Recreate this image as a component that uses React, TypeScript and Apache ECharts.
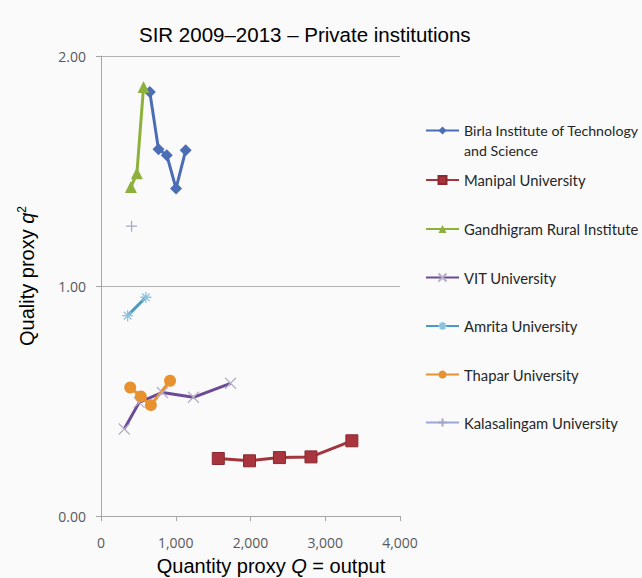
import React, { useEffect, useRef } from "react";
import * as echarts from "echarts";

const titleText = "SIR 2009–2013 – Private institutions";
const xTicks = [0, 1000, 2000, 3000, 4000];
const yTicks = [0, 1, 2];

const seriesNames = [
  "Birla Institute of Technology and Science",
  "Manipal University",
  "Gandhigram Rural Institute",
  "VIT University",
  "Amrita University",
  "Thapar University",
  "Kalasalingam University",
];

const birlaX = [653, 769, 880, 1004, 1133];
const birlaY = [1.843, 1.595, 1.569, 1.424, 1.59];
const manipalX = [1569, 1987, 2387, 2809, 3356];
const manipalY = [0.25, 0.24, 0.254, 0.257, 0.327];
const gandhiX = [400, 480, 569];
const gandhiY = [1.43, 1.49, 1.865];
const vitX = [311, 511, 822, 1236, 1733];
const vitY = [0.378, 0.494, 0.537, 0.516, 0.577];
const amritaX = [356, 600];
const amritaY = [0.871, 0.951];
const thaparX = [391, 533, 667, 924];
const thaparY = [0.559, 0.52, 0.482, 0.588];
const kalaX = [409];
const kalaY = [1.26];

const lineColors = ["#4a6db5", "#a3353c", "#8db13c", "#6b4a98", "#4b9ac3", "#e8912f", "#9aa6d8"];
const legendTops = [130.5, 180, 229, 277.5, 326, 374.5, 422.5];

const zip = (xs: number[], ys: number[]) => xs.map((x, i) => [x, ys[i]]);

export default function App() {
  const ref = useRef<HTMLDivElement>(null);
  useEffect(() => {
    if (!ref.current) return;
    const chart = echarts.init(ref.current, null, { renderer: "svg" });
    const legendFont = { fontFamily: "Lato", fontSize: 14.8, lineHeight: 16, color: "#262626" };
    const mk = (i: number, xs: number[], ys: number[], symbol: string, size: number, extra: any = {}) => ({
      name: seriesNames[i],
      type: "line",
      data: zip(xs, ys),
      symbol,
      symbolSize: size,
      lineStyle: { color: lineColors[i], width: 3 },
      itemStyle: { color: lineColors[i] },
      ...extra,
    });
    const legends = seriesNames.map((n, i) => ({
      data: [n],
      left: 425,
      top: i === 0 ? legendTops[i] - 30 : legendTops[i] - 8,
      orient: "vertical",
      itemWidth: 33,
      itemHeight: 10,
      padding: 0,
      selectedMode: false,
      formatter: i === 0 ? () => " \nBirla Institute of Technology\nand Science" : undefined,
      textStyle: i === 0 ? { ...legendFont, fontSize: 14.2, lineHeight: 20 } : legendFont,
    }));
    chart.setOption({
      animation: false,
      backgroundColor: "#fafafa",
      title: {
        text: titleText,
        left: 134,
        top: 19,
        textStyle: { fontFamily: "Liberation Sans", fontSize: 20.5, fontWeight: "normal", color: "#000" },
      },
      legend: legends,
      grid: { left: 101, right: 242, top: 56, bottom: 62, outerBoundsMode: "none", containLabel: false },
      xAxis: {
        type: "value",
        min: 0,
        max: 4000,
        interval: 1000,
        name: "Quantity proxy {i|Q} = output",
        nameLocation: "middle",
        nameGap: 40,
        nameTextStyle: {
          fontFamily: "Liberation Sans",
          fontSize: 20,
          color: "#000",
          padding: [0, 0, 0, 41],
          rich: { i: { fontFamily: "Liberation Sans", fontSize: 20, fontStyle: "italic", color: "#000" } },
        },
        axisLine: { show: true, lineStyle: { color: "#a6a6a6", width: 1 } },
        axisTick: { show: true, length: 5, lineStyle: { color: "#a6a6a6" } },
        axisLabel: {
          margin: 19,
          fontFamily: "Open Sans",
          fontSize: 14,
          color: "#595959",
          formatter: (v: number) => v.toLocaleString("en-US"),
        },
        splitLine: { show: false },
      },
      yAxis: {
        type: "value",
        min: 0,
        max: 2,
        interval: 1,
        name: "Quality proxy {i|q}{s|2}",
        nameLocation: "middle",
        nameRotate: 90,
        nameGap: 63,
        nameTextStyle: {
          fontFamily: "Liberation Sans",
          fontSize: 20,
          color: "#000",
          padding: [0, 0, 0, 20],
          rich: {
            i: { fontFamily: "Liberation Sans", fontSize: 20, fontStyle: "italic", color: "#000" },
            s: { fontFamily: "Liberation Sans", fontSize: 12, color: "#000", padding: [0, 0, 10, 0] },
          },
        },
        axisLine: { show: true, lineStyle: { color: "#a6a6a6", width: 1 } },
        axisTick: { show: true, length: 5, lineStyle: { color: "#a6a6a6" } },
        axisLabel: {
          margin: 15,
          fontFamily: "Open Sans",
          fontSize: 14,
          color: "#595959",
          formatter: (v: number) => v.toFixed(2),
        },
        splitLine: { show: true, lineStyle: { color: "#b3b3b3", width: 1 } },
      },
      series: [
        mk(0, birlaX, birlaY, "diamond", 12),
        mk(1, manipalX, manipalY, "rect", 12, { itemStyle: { color: "#a8343d", borderColor: "#8a2a30", borderWidth: 1 } }),
        mk(2, gandhiX, gandhiY, "triangle", 12),
        mk(3, vitX, vitY, "path://M0,0L10,10M10,0L0,10", 11, {
          itemStyle: { color: lineColors[3], borderColor: "#b5aec6", borderWidth: 1.3 },
        }),
        mk(4, amritaX, amritaY, "path://M5,0L5,10M0,5L10,5M1.5,1.5L8.5,8.5M8.5,1.5L1.5,8.5", 11, {
          itemStyle: { color: lineColors[4], borderColor: "#8cc4de", borderWidth: 1.3 },
        }),
        mk(5, thaparX, thaparY, "circle", 12),
        mk(6, kalaX, kalaY, "path://M5,0L5,10M0,5L10,5", 11, {
          itemStyle: { color: lineColors[6], borderColor: "#a3a8c8", borderWidth: 1.2 },
        }),
      ],
    });
    return () => chart.dispose();
  }, []);
  return <div ref={ref} style={{ position: "fixed", left: 0, top: 0, width: 642, height: 578 }} />;
}
